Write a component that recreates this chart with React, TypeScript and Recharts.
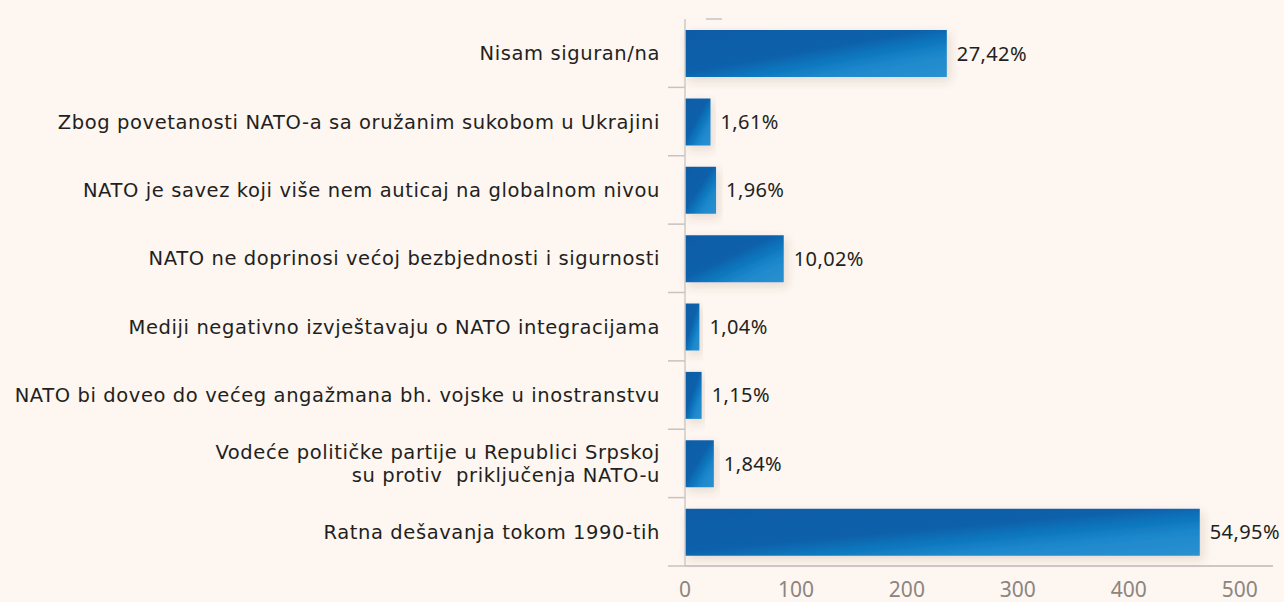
import React from "react";
import { BarChart, Bar, XAxis, YAxis, LabelList } from "recharts";

const categories = [
  "Nisam siguran/na",
  "Zbog povetanosti NATO-a sa oružanim sukobom u Ukrajini",
  "NATO je savez koji više nem auticaj na globalnom nivou",
  "NATO ne doprinosi većoj bezbjednosti i sigurnosti",
  "Mediji negativno izvještavaju o NATO integracijama",
  "NATO bi doveo do većeg angažmana bh. vojske u inostranstvu",
  "Vodeće političke partije u Republici Srpskoj\nsu protiv  priključenja NATO-u",
  "Ratna dešavanja tokom 1990-tih",
];
const counts = [236, 23, 28, 89, 13, 15, 26, 464];
const percents = ["27,42%", "1,61%", "1,96%", "10,02%", "1,04%", "1,15%", "1,84%", "54,95%"];
const xTicks = [0, 100, 200, 300, 400, 500];

const data = categories.map((name, i) => ({ name, count: counts[i], pct: percents[i] }));

const FONT = "'Noto Sans', sans-serif";
const LABEL_FONT = "'DejaVu Sans', sans-serif";
const BG = "#fdf6f1";

function CategoryTick(props: any) {
  const { x, y, payload, index } = props;
  const half = payload && payload.offset ? payload.offset : 34;
  const lines = String(payload.value).split("\n");
  const lh = 23;
  const startY = y - ((lines.length - 1) * lh) / 2;
  return (
    <g>
      <text
        x={x}
        y={startY}
        textAnchor="end"
        dominantBaseline="central"
        fill="#231f20"
        fontSize={19.5}
        letterSpacing={0.6}
        fontFamily={LABEL_FONT}
        style={{ whiteSpace: "pre" }}
      >
        {lines.map((l, i) => (
          <tspan key={i} x={x} y={startY + i * lh}>
            {l}
          </tspan>
        ))}
      </text>
      <line x1={x + 8} x2={x + 25} y1={y + half} y2={y + half} stroke="#c8c3bf" strokeWidth={1.5} />
      {index === 0 && (
        <line x1={x + 46} x2={x + 62} y1={y - half} y2={y - half} stroke="#c8c3bf" strokeWidth={1.5} />
      )}
    </g>
  );
}

export default function App() {
  return (
    <div style={{ position: "fixed", left: 0, top: 0, width: 1284, height: 602, background: BG }}>
      <BarChart
        width={1284}
        height={602}
        data={data}
        layout="vertical"
        margin={{ top: 19, right: 11, left: 0, bottom: 0 }}
        barCategoryGap={0}
      >
        <defs>
          <linearGradient id="barGrad" x1="0" y1="0" x2="1" y2="1">
            <stop offset="0%" stopColor="#0d5ca7" />
            <stop offset="45%" stopColor="#0f60aa" />
            <stop offset="58%" stopColor="#0a74bb" />
            <stop offset="75%" stopColor="#1e88cc" />
            <stop offset="100%" stopColor="#2a91d1" />
          </linearGradient>
          <filter id="barShadow" x="-10%" y="-20%" width="130%" height="160%">
            <feDropShadow dx="3" dy="4" stdDeviation="5" floodColor="#6b4a30" floodOpacity="0.16" />
          </filter>
        </defs>
        <XAxis
          type="number"
          domain={[0, 530]}
          ticks={xTicks}
          height={36}
          tickLine={false}
          tickMargin={10}
          axisLine={{ stroke: "#bdb8b4", strokeWidth: 1.5 }}
          tick={{ fill: "#8c8580", fontSize: 21, fontFamily: FONT }}
        />
        <YAxis
          type="category"
          dataKey="name"
          width={685}
          tickLine={false}
          tickSize={8}
          tickMargin={17}
          interval={0}
          axisLine={{ stroke: "#cfcac6", strokeWidth: 1.5 }}
          tick={<CategoryTick />}
        />
        <Bar
          dataKey="count"
          barSize={47}
          fill="url(#barGrad)"
          filter="url(#barShadow)"
          isAnimationActive={false}
        >
          <LabelList
            dataKey="pct"
            position="right"
            offset={10}
            fill="#231f20"
            fontSize={20}
            fontFamily={FONT}
            letterSpacing={0.4}
          />
        </Bar>
      </BarChart>
    </div>
  );
}
